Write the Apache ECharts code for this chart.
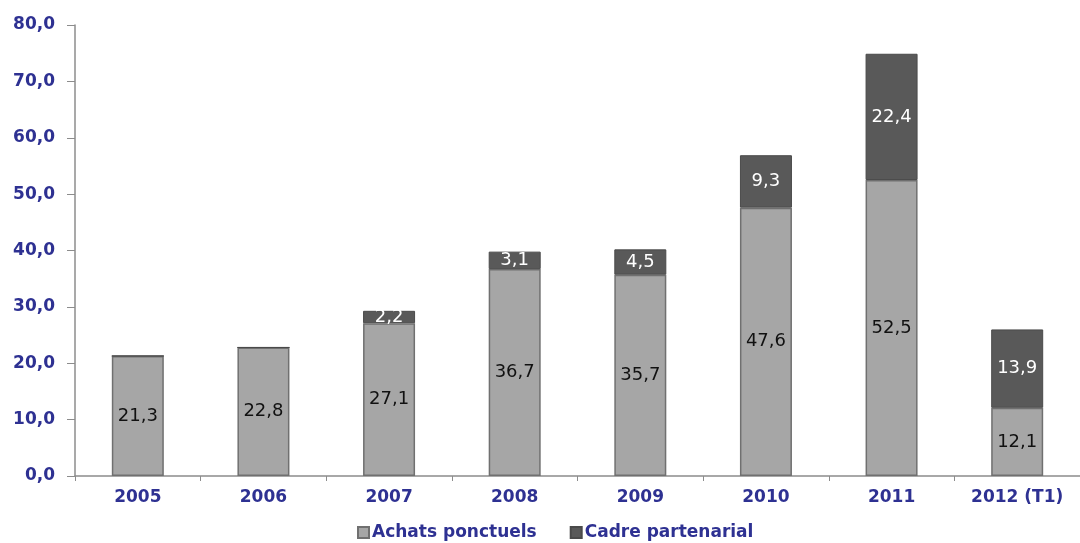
<!DOCTYPE html>
<html><head><meta charset="utf-8">
<script src="https://cdn.jsdelivr.net/npm/echarts@6/dist/echarts.min.js"></script>
<style>html,body{margin:0;padding:0;background:#fff}#c{width:1080px;height:543px}</style>
</head><body><div id="c"></div>
<script>
const categories = ['2005','2006','2007','2008','2009','2010','2011','2012 (T1)'];
const achatsPonctuels = [21.3, 22.8, 27.1, 36.7, 35.7, 47.6, 52.5, 12.1];
const cadrePartenarial = [0.0, 0.0, 2.2, 3.1, 4.5, 9.3, 22.4, 13.9];
const yTicks = [0,10,20,30,40,50,60,70,80];

const fmt = v => v.toFixed(1).replace('.', ',');
const navy = '#2e3192';
const F = 'DejaVu Sans';
const chart = echarts.init(document.getElementById('c'));
chart.setOption({
  animation: false,
  grid: {left: 75, right: -3, top: 25, bottom: 67},
  legend: {
    bottom: -3, left: 352, itemWidth: 11, itemHeight: 11, itemGap: 33, icon: 'rect',
    textStyle: {color: navy, fontFamily: F, fontWeight: 'bold', fontSize: 17, padding: [0,0,0,-2]},
    data: ['Achats ponctuels', 'Cadre partenarial']
  },
  xAxis: {
    type: 'category', data: categories,
    axisLine: {lineStyle: {color: '#8c8c8c', width: 1.5}},
    axisTick: {show: true, length: 5, lineStyle: {color: '#8c8c8c'}},
    axisLabel: {color: navy, fontFamily: F, fontWeight: 'bold', fontSize: 17, margin: 13}
  },
  yAxis: {
    type: 'value', min: 0, max: 80, interval: 10,
    axisLine: {show: true, lineStyle: {color: '#8c8c8c', width: 1.5}},
    axisTick: {show: true, length: 8, lineStyle: {color: '#8c8c8c'}},
    splitLine: {show: false},
    axisLabel: {color: navy, fontFamily: F, fontWeight: 'bold', fontSize: 17, margin: 20,
      formatter: v => yTicks.includes(v) ? fmt(v) : ''}
  },
  series: [
    {
      name: 'Achats ponctuels', type: 'bar', stack: 't', barWidth: 52,
      data: achatsPonctuels,
      itemStyle: {color: '#a6a6a6', borderColor: '#707070', borderWidth: 1.5},
      label: {show: true, position: 'inside', color: '#111', fontFamily: F, fontSize: 18, formatter: p => fmt(p.value)}
    },
    {
      name: 'Cadre partenarial', type: 'bar', stack: 't', barWidth: 52,
      data: cadrePartenarial.map(v => v === 0
        ? {value: v, label: {position: 'top', distance: 14}}
        : v),
      itemStyle: {color: '#595959', borderColor: '#4a4a4a', borderWidth: 1},
      label: {show: true, position: 'inside', color: '#fff', fontFamily: F, fontSize: 18, formatter: p => fmt(p.value)}
    }
  ]
});
</script></body></html>
